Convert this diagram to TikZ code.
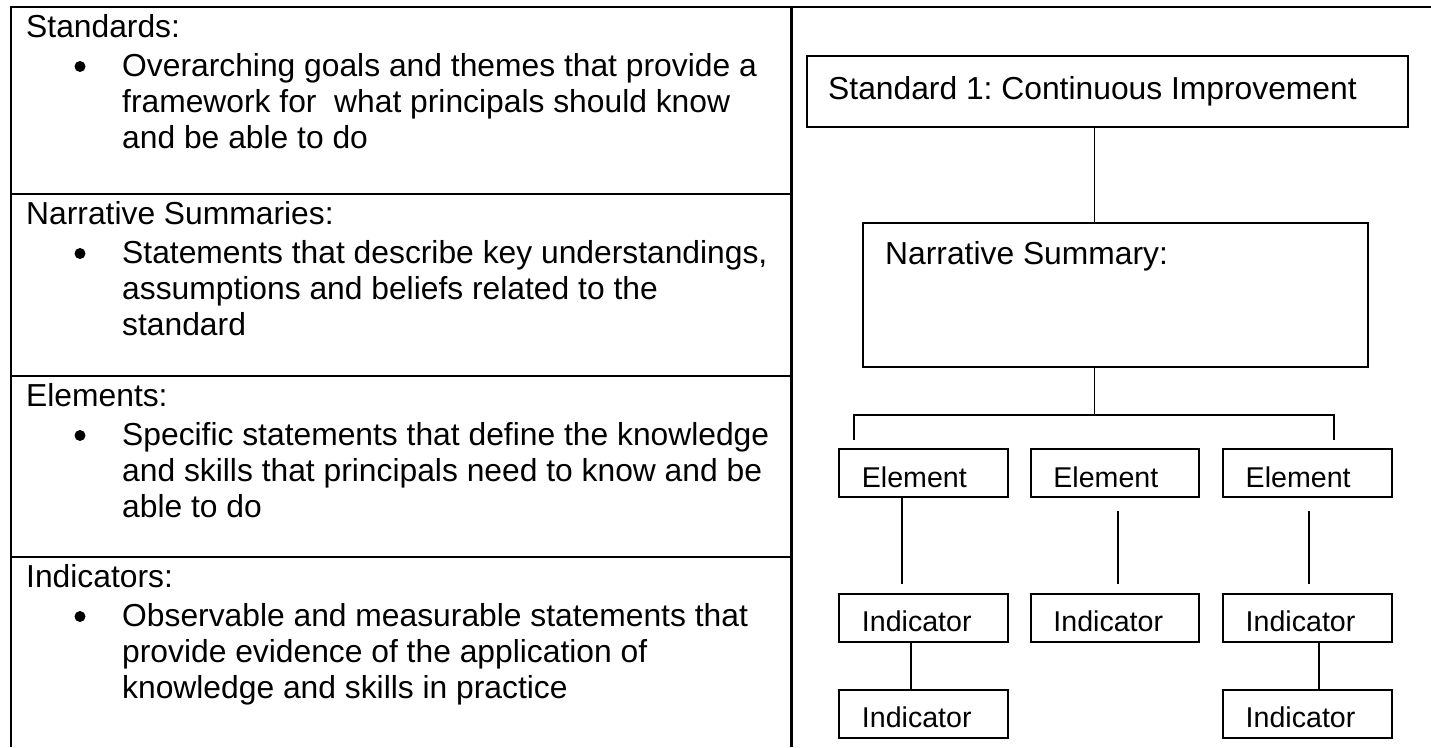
\documentclass[tikz,border=0pt]{standalone}
\usepackage{fontspec}
\setmainfont{Liberation Sans}
\frenchspacing
\begin{document}
\begin{tikzpicture}[x=1pt,y=-1pt,
  rule/.style={line width=2.6pt},
  link/.style={line width=1.8pt},
  box/.style={draw, line width=2pt, inner sep=0pt},
  big/.style={font=\fontsize{31.8}{36}\selectfont, inner sep=0pt, anchor=base west},
  small/.style={font=\fontsize{28.6}{34}\selectfont, inner sep=0pt, anchor=base west},
  dot/.style={circle, fill, inner sep=0pt, minimum size=11pt}]

\useasboundingbox (0,0) rectangle (1431,747);

% ---- table frame ----
\draw[rule] (11,747) -- (11,7) -- (1431,7);
\draw[rule] (791.5,7) -- (791.5,747);
\draw[rule] (11,194) -- (791.5,194);
\draw[rule] (11,376) -- (791.5,376);
\draw[rule] (11,557) -- (791.5,557);

% ---- left column: definitions ----
\node[big] (h1) at (26,37) {Standards:};
\node[dot] (b1) at (80,66.5) {};
\node[big] (l11) at (122,76) {Overarching goals and themes that provide a};
\node[big] (l12) at (122,112) {framework for\ \ what principals should know};
\node[big] (l13) at (122,148) {and be able to do};

\node[big] (h2) at (26,224.5) {Narrative Summaries:};
\node[dot] (b2) at (80,253.5) {};
\node[big] (l21) at (122,263) {Statements that describe key understandings,};
\node[big] (l22) at (122,299) {assumptions and beliefs related to the};
\node[big] (l23) at (122,335) {standard};

\node[big] (h3) at (26,406.5) {Elements:};
\node[dot] (b3) at (80,435.5) {};
\node[big] (l31) at (122,445) {Specific statements that define the knowledge};
\node[big] (l32) at (122,481) {and skills that principals need to know and be};
\node[big] (l33) at (122,517) {able to do};

\node[big] (h4) at (26,587.5) {Indicators:};
\node[dot] (b4) at (80,616.5) {};
\node[big] (l41) at (122,626) {Observable and measurable statements that};
\node[big] (l42) at (122,662) {provide evidence of the application of};
\node[big] (l43) at (122,698) {knowledge and skills in practice};

% ---- right column: hierarchy ----
\node[box, minimum width=601pt, minimum height=71.6pt] (std) at (1107.2,91.5) {};
\node[big] (tstd) at (828,99) {Standard 1: Continuous Improvement};

\node[box, minimum width=504.7pt, minimum height=144pt] (ns) at (1115.35,295) {};
\node[big] (tns) at (885,264) {Narrative Summary:};

\node[box, minimum width=168.5pt, minimum height=48pt] (e1) at (923.3,473) {};
\node[box, minimum width=168.5pt, minimum height=48pt] (e2) at (1115,473) {};
\node[box, minimum width=168.5pt, minimum height=48pt] (e3) at (1307.5,473) {};
\node[small] (te1) at (861.7,487) {Element};
\node[small] (te2) at (1053.2,487) {Element};
\node[small] (te3) at (1245.5,487) {Element};

\node[box, minimum width=168.5pt, minimum height=48pt] (i1) at (923.3,617.5) {};
\node[box, minimum width=168.5pt, minimum height=48pt] (i2) at (1115,617.5) {};
\node[box, minimum width=168.5pt, minimum height=48pt] (i3) at (1307.5,617.5) {};
\node[small] (ti1) at (861.7,631) {Indicator};
\node[small] (ti2) at (1053.2,631) {Indicator};
\node[small] (ti3) at (1245.5,631) {Indicator};

\node[box, minimum width=168.5pt, minimum height=48pt] (i1b) at (923.3,713.5) {};
\node[box, minimum width=168.5pt, minimum height=48pt] (i3b) at (1307.5,713.5) {};
\node[small] (ti1b) at (861.7,727) {Indicator};
\node[small] (ti3b) at (1245.5,727) {Indicator};

% ---- connectors ----
\coordinate (trunk) at (1094.5,0);
\draw[link] (std.south -| trunk) -- (ns.north -| trunk);
\coordinate (fork) at (1094.5,415);
\coordinate (forkL) at (854,440);
\coordinate (forkR) at (1333.7,440);
\draw[link] (ns.south -| fork) -- (fork);
\draw[link] (forkL) |- (fork) -| (forkR);

\coordinate (e1end) at (902,584);
\draw[link] (e1.south -| e1end) -- (e1end);
\coordinate (e2top) at (1117.7,511);
\coordinate (e2end) at (1117.7,584);
\draw[link] (e2top) -- (e2end);
\coordinate (e3top) at (1309.3,511);
\coordinate (e3end) at (1309.3,584);
\draw[link] (e3top) -- (e3end);

\coordinate (c1) at (911,0);
\draw[link] (i1.south -| c1) -- (i1b.north -| c1);
\coordinate (c3) at (1319.3,0);
\draw[link] (i3.south -| c3) -- (i3b.north -| c3);

\end{tikzpicture}
\end{document}
